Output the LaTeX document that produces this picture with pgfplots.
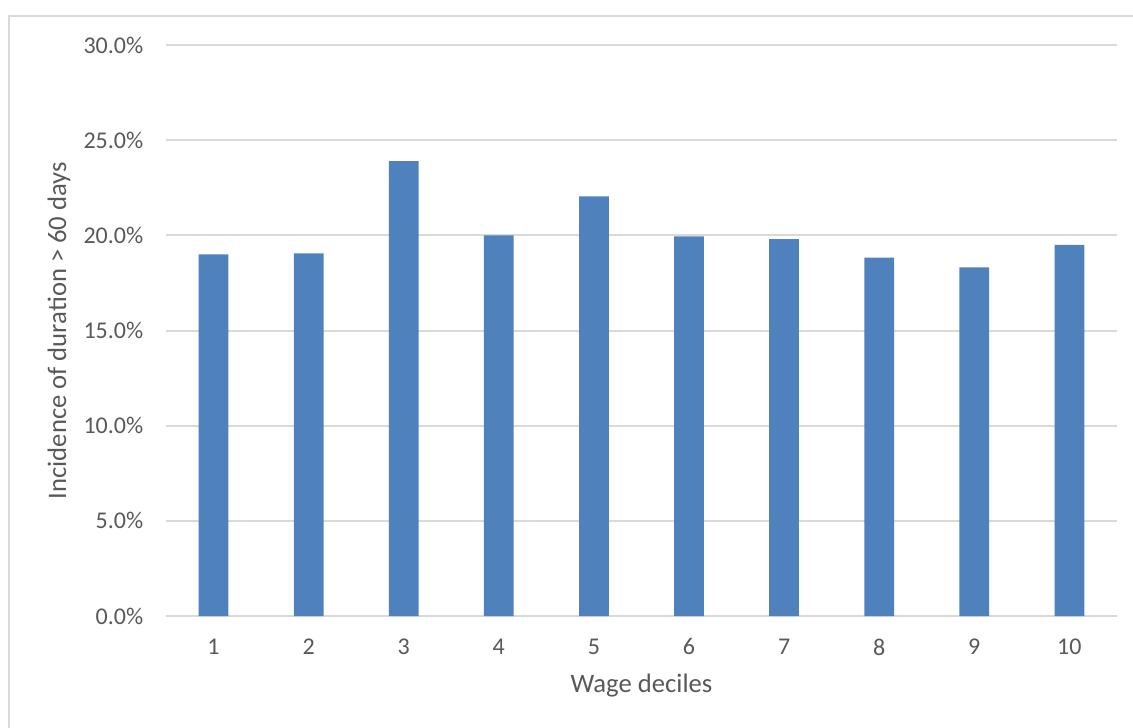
\documentclass[border=0pt]{standalone}
\usepackage{pgfplots}
\pgfplotsset{compat=1.18}
\usepackage{fontspec}
\setmainfont{Carlito}
\definecolor{barblue}{HTML}{4F81BD}
\definecolor{gridgray}{HTML}{D9D9D9}
\definecolor{textgray}{HTML}{595959}
\begin{document}
\begin{tikzpicture}
% page frame (1 px = 0.375 pt)
\useasboundingbox (0,0) rectangle (424.875pt,272.625pt);
\draw[gridgray, line width=0.75pt] (3.4pt,-5pt) -- (3.4pt,266.6pt) -- (430pt,266.6pt);
\begin{axis}[
  at={(62.25pt,41.625pt)}, anchor=south west,
  scale only axis,
  width=356.6pt, height=214.1pt,
  xmin=0.5, xmax=10.5,
  ymin=0, ymax=30,
  xtick={1,...,10},
  ytick={0,5,...,30},
  yticklabel={\pgfmathprintnumber[fixed,fixed zerofill,precision=1]{\tick}\%},
  /pgf/number format/assume math mode=true,
  axis line style={draw=none},
  major tick length=0pt,
  ymajorgrids,
  grid style={gridgray, line width=0.75pt},
  tick label style={font=\fontsize{9}{11}\selectfont, text=textgray},
  yticklabel style={xshift=-5pt},
  xticklabel style={yshift=-5pt},
  label style={font=\fontsize{10}{12}\selectfont, text=textgray},
  xlabel={Wage deciles},
  ylabel={Incidence of duration > 60 days},
  xlabel style={at={(axis description cs:0.5,-0.1226)}, anchor=center},
  ylabel style={at={(axis description cs:-0.1125,0.5)}, anchor=center, rotate=0},
  ybar, bar width=11.15pt,
]
\addplot[fill=barblue, draw=none] coordinates {
  (1,19.0) (2,19.05) (3,23.9) (4,20.0) (5,22.05)
  (6,19.95) (7,19.8) (8,18.83) (9,18.32) (10,19.5)
};
\end{axis}
\end{tikzpicture}
\end{document}
